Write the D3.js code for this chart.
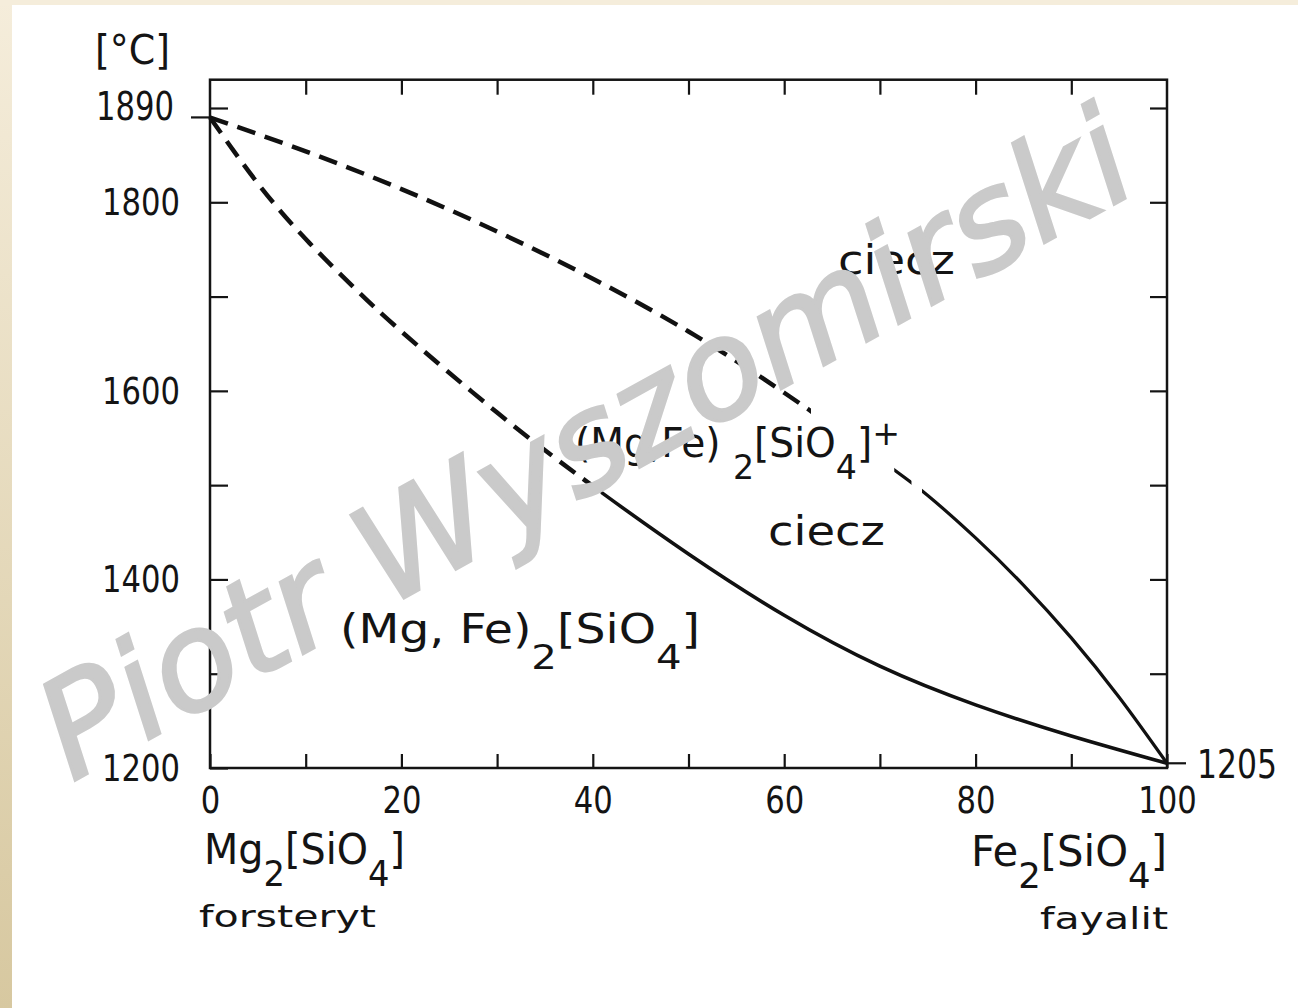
<!DOCTYPE html>
<html>
<head>
<meta charset="utf-8">
<script src="https://cdn.jsdelivr.net/npm/d3@7"></script>
<style>
  html, body { margin: 0; padding: 0; background: #fff; }
  svg { display: block; }
  text { fill: #141414; white-space: pre; }
</style>
</head>
<body>
<svg id="chart" width="1298" height="1008"></svg>
<script>
// composition axis (% Fe2[SiO4])
const compTicks = d3.range(0, 101, 10);
const compLabels = [0, 20, 40, 60, 80, 100];
// temperature axis [°C]
const tempTicks = d3.range(1200, 1901, 100);
const tempLabels = [1200, 1400, 1600, 1800];
const meltMg = 1890;   // forsteryt
const meltFe = 1205;   // fayalit

// liquidus (upper curve)
const liqX = [0, 10, 20, 30, 40, 50, 60, 70, 75, 80, 85, 90, 95, 100];
const liqT = [1890, 1854, 1814, 1769, 1719, 1663, 1598, 1527, 1489, 1444, 1394, 1338, 1275, 1205];
// solidus (lower curve)
const solX = [0, 5, 10, 15, 20, 30, 40, 50, 60, 70, 80, 90, 100];
const solT = [1890, 1820, 1761, 1710, 1663, 1577, 1499, 1427, 1362, 1308, 1267, 1234, 1205];

const watermark = "Piotr Wyszomirski";

const W = 1298, H = 1008;
const svg = d3.select("#chart");
const defs = svg.append("defs");

const x = d3.scaleLinear().domain([0, 100]).range([210, 1167]);
const y = d3.scaleLinear().domain([1200, 1900]).range([768, 108]);
const frameTop = y(1930);

const FONT = "'DejaVu Sans Condensed', 'DejaVu Sans', sans-serif";

// scanned page edges
const grad = defs.append("linearGradient").attr("id", "edge")
  .attr("x1", 0).attr("y1", 0).attr("x2", 0).attr("y2", 1);
grad.append("stop").attr("offset", 0).attr("stop-color", "#f5eddb");
grad.append("stop").attr("offset", 1).attr("stop-color", "#d7c8a0");
svg.append("rect").attr("width", W).attr("height", H).attr("fill", "#fff");
svg.append("rect").attr("width", 12).attr("height", H).attr("fill", "url(#edge)");
svg.append("rect").attr("width", W).attr("height", 5).attr("fill", "#f5eddb");

// frame
svg.append("rect")
  .attr("x", x(0)).attr("y", frameTop)
  .attr("width", x(100) - x(0)).attr("height", y(1200) - frameTop)
  .attr("fill", "none").attr("stroke", "#141414").attr("stroke-width", 2.5);

const styleAxis = (g, size) => {
  g.select(".domain").remove();
  g.selectAll(".tick line").attr("stroke", "#141414").attr("stroke-width", 2.2);
  g.selectAll(".tick text")
    .style("font-family", FONT).style("font-size", size + "px").attr("fill", "#141414")
    .each(function () {
      const s = d3.select(this).text();
      if (s) d3.select(this).attr("textLength", s.length * 19.5).attr("lengthAdjust", "spacingAndGlyphs");
    });
};

// bottom axis
svg.append("g").attr("transform", `translate(0,${y(1200)})`)
  .call(d3.axisBottom(x).tickValues(compTicks).tickSize(-14).tickPadding(18)
    .tickFormat(d => compLabels.includes(d) ? d : ""))
  .call(g => styleAxis(g, 38));

// top axis
svg.append("g").attr("transform", `translate(0,${frameTop})`)
  .call(d3.axisTop(x).tickValues(compTicks.slice(1, -1)).tickSize(-15).tickFormat(""))
  .call(g => styleAxis(g, 38));

// left axis
svg.append("g").attr("transform", `translate(${x(0)},0)`)
  .call(d3.axisLeft(y).tickValues(tempTicks).tickSize(-18).tickPadding(30)
    .tickFormat(d => tempLabels.includes(d) ? d : ""))
  .call(g => styleAxis(g, 38));

// right axis
svg.append("g").attr("transform", `translate(${x(100)},0)`)
  .call(d3.axisRight(y).tickValues(tempTicks.slice(1)).tickSize(-17).tickFormat(""))
  .call(g => styleAxis(g, 38));

// melting points
svg.append("line").attr("x1", x(0) - 19).attr("x2", x(0)).attr("y1", y(meltMg)).attr("y2", y(meltMg))
  .attr("stroke", "#141414").attr("stroke-width", 2.2);
svg.append("text").attr("x", x(0) - 36).attr("y", y(meltMg) + 3).attr("text-anchor", "end")
  .attr("textLength", 78).attr("lengthAdjust", "spacingAndGlyphs")
  .style("font-family", FONT).style("font-size", "39px").text(meltMg);
svg.append("line").attr("x1", x(100)).attr("x2", x(100) + 19).attr("y1", y(meltFe)).attr("y2", y(meltFe))
  .attr("stroke", "#141414").attr("stroke-width", 2.2);
svg.append("text").attr("x", x(100) + 30).attr("y", y(meltFe) + 15)
  .attr("textLength", 80).attr("lengthAdjust", "spacingAndGlyphs")
  .style("font-family", FONT).style("font-size", "39px").text(meltFe);

svg.append("text").attr("x", 95).attr("y", 64)
  .attr("textLength", 75).attr("lengthAdjust", "spacingAndGlyphs")
  .style("font-family", FONT).style("font-size", "40px").text("[°C]");

// curves, dashed where uncertain
const clip = (id, ranges) => {
  const cp = defs.append("clipPath").attr("id", id);
  ranges.forEach(([a, b]) => cp.append("rect")
    .attr("x", x(a)).attr("y", 0).attr("width", x(b) - x(a)).attr("height", H));
};
clip("solDash", [[-3, 40.8]]);
clip("solLine", [[40.8, 103]]);
clip("liqDash", [[-3, 62.8]]);
clip("liqLine", [[71.5, 73.3], [74.4, 103]]);

const line = d3.line().x(d => x(d[0])).y(d => y(d[1])).curve(d3.curveNatural);
const liq = d3.zip(liqX, liqT);
const sol = d3.zip(solX, solT);

const drawCurve = (data, clipId, dashed, width) => {
  svg.append("path").datum(data)
    .attr("d", line)
    .attr("clip-path", `url(#${clipId})`)
    .attr("fill", "none").attr("stroke", "#111")
    .attr("stroke-width", width)
    .attr("stroke-dasharray", dashed ? "19 10" : null);
};
drawCurve(liq, "liqDash", true, 4.5);
drawCurve(liq, "liqLine", false, 3.2);
drawCurve(sol, "solDash", true, 4.5);
drawCurve(sol, "solLine", false, 3.6);

// chemical labels with lowered subscripts
const chem = (x0, y0, parts, size, len) => {
  const t = svg.append("text").attr("x", x0).attr("y", y0)
    .style("font-family", FONT).style("font-size", size + "px");
  if (len) t.attr("textLength", len).attr("lengthAdjust", "spacingAndGlyphs");
  let shift = 0;
  parts.forEach(p => {
    const [s, off] = typeof p === "string" ? [p, 0] : p;
    t.append("tspan").attr("dy", off - shift)
      .style("font-size", off ? (size * 0.85) + "px" : null).text(s);
    shift = off;
  });
  return t;
};

chem(838, 274, ["ciecz"], 40, 117);
chem(575, 457, ["(Mg,Fe) ", ["2", 22], "[SiO", ["4", 22], "]", ["+", -12]], 40, 325);
chem(768, 545, ["ciecz"], 40, 117);
chem(340, 643, ["(Mg, Fe)", ["2", 26], "[SiO", ["4", 26], "]"], 40, 360);

chem(204, 864, ["Mg", ["2", 22], "[SiO", ["4", 22], "]"], 42, 201);
chem(199, 927, ["forsteryt"], 30, 177);
chem(971, 866, ["Fe", ["2", 22], "[SiO", ["4", 22], "]"], 42, 196);
chem(1040, 929, ["fayalit"], 30, 128);

// scan watermark
svg.append("text")
  .attr("transform", "translate(72,782) rotate(-29)")
  .attr("textLength", 1225).attr("lengthAdjust", "spacingAndGlyphs")
  .style("font-family", "'DejaVu Sans', sans-serif").style("font-style", "italic")
  .style("font-size", "135px")
  .style("fill", "#cacaca").style("stroke", "#cacaca").style("stroke-width", 3)
  .text(watermark);
</script>
</body>
</html>
